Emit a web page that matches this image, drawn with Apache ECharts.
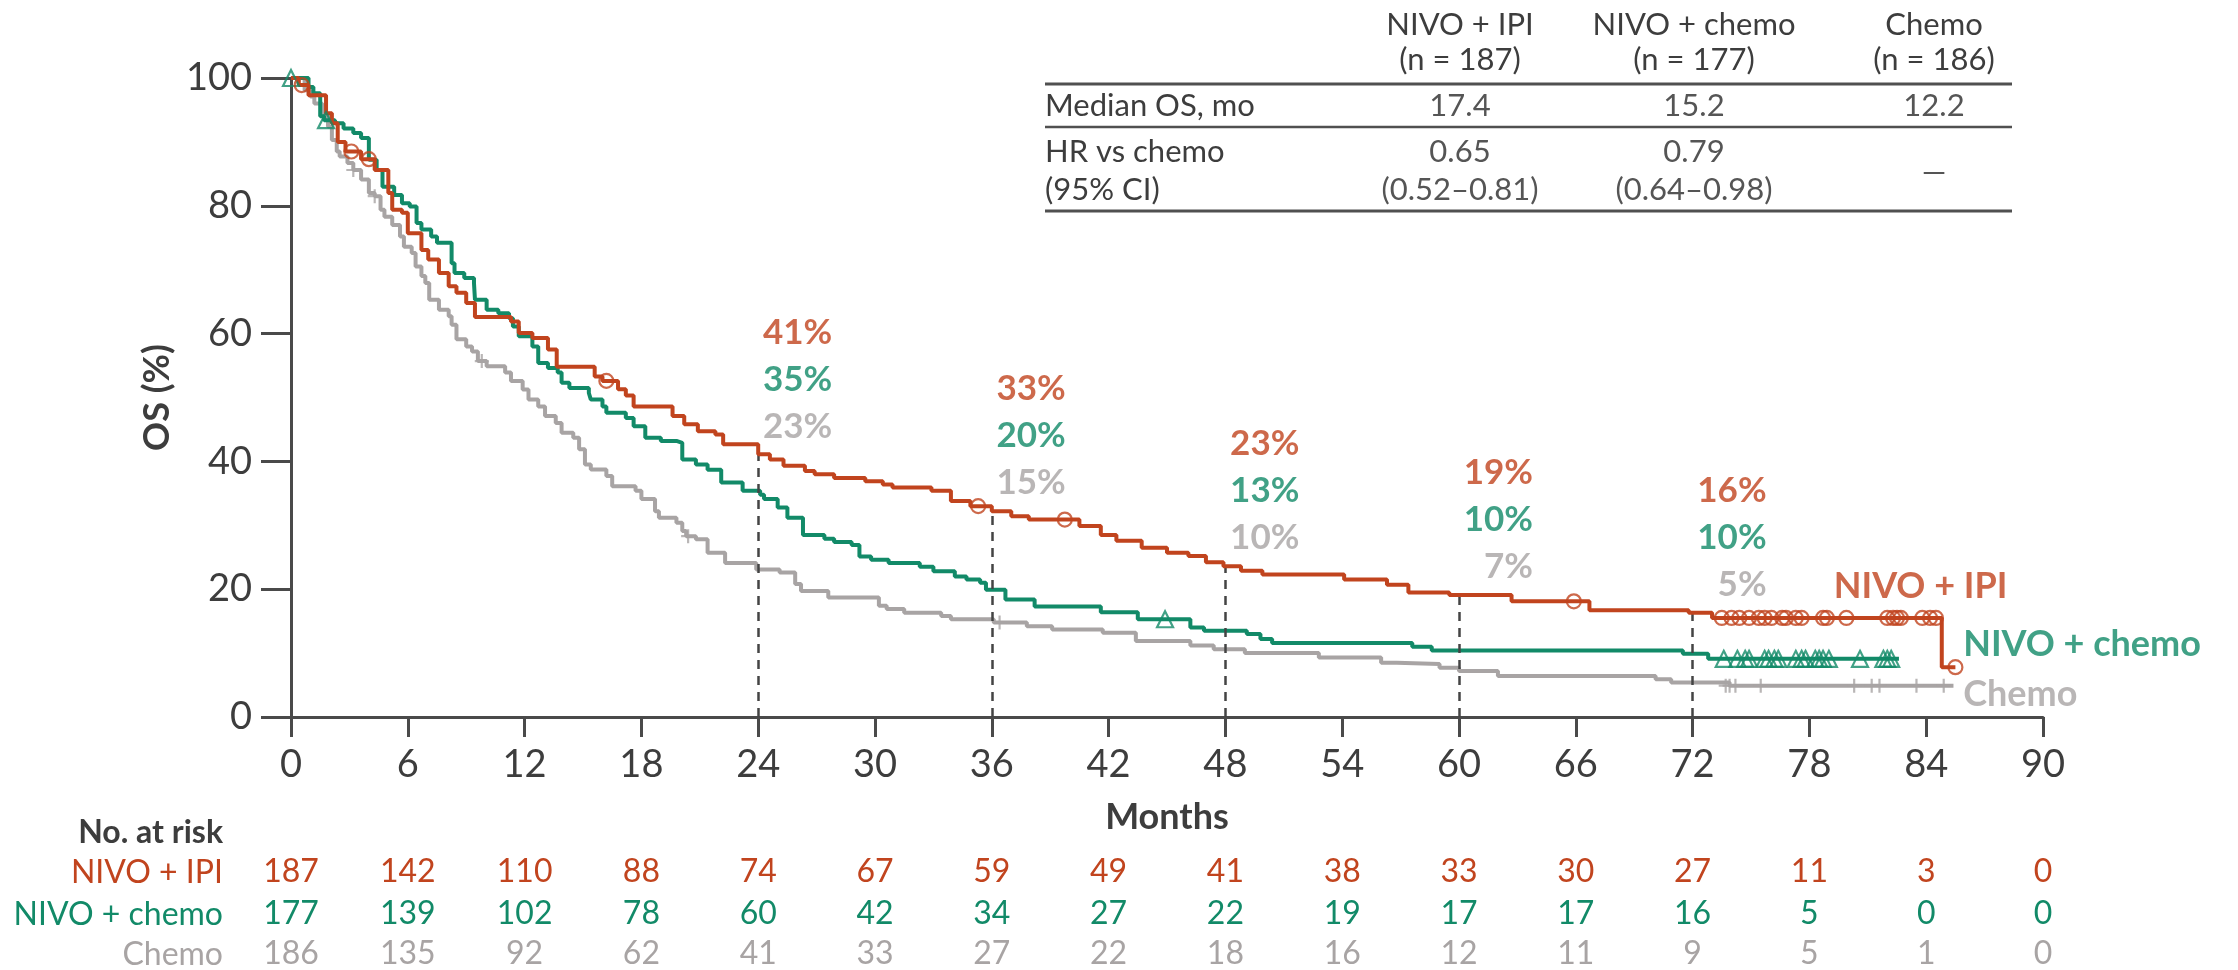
<!DOCTYPE html>
<html><head><meta charset="utf-8">
<script src="https://cdn.jsdelivr.net/npm/echarts@6/dist/echarts.min.js"></script>
<style>html,body{margin:0;padding:0;background:#fff}#c{width:2238px;height:970px}</style>
</head><body><div id="c"></div>
<script>
// ---------------- DATA ----------------
const monthTicks = [0,6,12,18,24,30,36,42,48,54,60,66,72,78,84,90];
const survivalTicks = [0,20,40,60,80,100];

// Kaplan-Meier steps [month, OS %]
const nivoIpi = [[0,100],[0.4,98.9],[0.9,97.3],[1.8,94.5],[2.1,92.9],[2.4,90.0],[2.8,88.5],[3.6,87.3],[4.3,85.6],[5.0,82.0],[5.2,79.4],[5.7,78.9],[6.0,75.7],[6.7,73.1],[7.05,71.6],[7.6,69.5],[8.1,67.4],[8.5,66.4],[9.0,64.8],[9.45,62.6],[11.3,61.9],[11.7,60.1],[12.4,59.3],[13.2,57.5],[13.65,54.8],[15.6,53.3],[16.0,52.6],[16.8,51.3],[17.2,50.3],[17.6,48.6],[19.6,47.1],[20.2,45.8],[20.9,44.7],[21.8,44.2],[22.2,42.7],[24.0,41.1],[24.6,40.3],[25.3,39.3],[26.4,38.5],[26.9,38.0],[27.9,37.4],[29.5,36.9],[30.4,36.4],[30.9,35.9],[32.9,35.4],[33.9,33.8],[34.9,33.0],[36.0,32.2],[37.0,31.4],[37.9,30.9],[40.5,29.9],[41.6,28.5],[42.4,27.6],[43.7,26.5],[45.0,25.7],[46.1,25.2],[47.0,24.2],[47.9,23.6],[48.8,22.9],[49.9,22.3],[54.1,21.5],[56.3,20.7],[57.4,19.5],[59.5,19.1],[62.7,18.1],[66.7,16.7],[71.8,16.3],[73.0,15.5],[84.8,7.8],[85.5,7.8]];
const nivoChemo = [[0,100],[0.9,98.6],[1.15,97.6],[1.5,94.0],[1.7,93.4],[2.26,92.9],[2.7,92.1],[3.2,91.4],[3.6,90.6],[4.0,87.2],[4.4,85.6],[4.7,83.0],[5.3,81.7],[5.7,80.4],[6.1,79.9],[6.45,77.3],[6.7,76.3],[7.2,75.2],[7.5,74.2],[8.25,71.0],[8.4,69.5],[8.9,68.7],[9.4,67.9],[9.45,65.3],[10.05,63.75],[10.65,63.2],[11.2,62.4],[11.4,61.1],[11.7,59.6],[12.4,58.0],[12.7,55.4],[13.2,54.6],[13.7,53.9],[13.9,52.3],[14.3,51.5],[15.3,50.7],[15.4,49.7],[16.0,48.6],[16.2,47.6],[17.2,46.8],[17.6,45.5],[18.2,43.7],[19.0,43.2],[19.8,42.9],[20.1,40.3],[20.8,39.5],[21.4,38.7],[22.1,36.7],[23.2,35.4],[24.1,34.8],[24.3,34.1],[25.0,32.8],[25.5,31.2],[26.3,28.5],[27.4,27.9],[27.9,27.4],[28.8,26.9],[29.2,25.1],[29.8,24.6],[30.7,24.1],[32.3,23.5],[33.0,22.8],[34.1,22.0],[34.7,21.5],[35.4,21.0],[35.7,19.9],[36.7,18.4],[38.2,17.3],[41.6,16.4],[43.5,15.3],[46.2,14.0],[46.9,13.5],[49.1,13.0],[49.8,12.2],[50.4,11.6],[57.6,11.0],[58.6,10.4],[71.5,9.9],[72.8,9.1],[82.6,9.1]];
const chemo = [[0,100],[0.7,98.1],[1.0,97.1],[1.2,96.0],[1.6,94.2],[1.9,92.4],[2.1,90.3],[2.35,88.5],[2.5,87.7],[2.9,86.7],[3.2,85.6],[3.6,84.1],[4.0,82.0],[4.3,81.5],[4.6,79.4],[4.8,78.3],[5.2,77.0],[5.6,75.2],[5.8,73.6],[6.2,72.6],[6.4,70.5],[6.7,69.0],[6.9,67.9],[7.1,65.3],[7.6,63.75],[8.1,62.7],[8.25,61.4],[8.5,59.1],[9.0,58.0],[9.3,57.2],[9.6,55.7],[10.05,54.9],[11.0,53.9],[11.3,52.6],[11.9,51.25],[12.2,49.7],[12.7,48.6],[13.05,47.1],[13.6,46.0],[13.9,44.5],[14.5,43.7],[14.8,41.9],[15.1,39.5],[15.4,38.75],[16.2,37.7],[16.5,36.1],[17.7,35.4],[18.0,34.1],[18.7,32.2],[18.9,31.2],[19.8,30.4],[20.1,29.1],[20.3,28.3],[20.8,27.8],[21.4,25.7],[22.3,24.1],[23.9,23.1],[25.1,22.6],[25.9,20.8],[26.2,19.7],[27.6,18.7],[30.2,17.4],[30.6,16.9],[31.5,16.3],[33.4,15.8],[33.9,15.3],[36.1,14.8],[37.8,14.2],[39.1,13.7],[41.7,13.2],[43.4,11.9],[46.2,11.2],[47.4,10.6],[49.0,10.0],[52.8,9.3],[56.0,8.5],[56.8,8.3],[59.0,7.7],[60.0,7.2],[62.0,6.4],[70.1,5.9],[70.9,5.4],[73.9,4.9],[85.4,4.9]];

// censored observations [month, OS %]
const nivoIpiCensor = [[0.55,98.9],[3.1,88.5],[4.0,87.3],[16.2,52.6],[35.3,33.0],[39.75,30.9],[65.9,18.1],[73.5,15.5],[74.0,15.5],[74.4,15.5],[74.9,15.5],[75.4,15.5],[75.7,15.5],[76.05,15.5],[76.6,15.5],[76.8,15.5],[77.3,15.5],[77.6,15.5],[78.7,15.5],[78.9,15.5],[79.9,15.5],[82.0,15.5],[82.3,15.5],[82.5,15.5],[82.7,15.5],[83.8,15.5],[84.2,15.5],[84.5,15.5],[85.5,7.8]];
const nivoChemoCensor = [[0,100],[1.8,93.4],[44.9,15.3],[73.6,9.1],[74.3,9.1],[74.7,9.1],[74.9,9.1],[75.7,9.1],[75.9,9.1],[76.2,9.1],[76.4,9.1],[77.3,9.1],[77.6,9.1],[77.8,9.1],[78.3,9.1],[78.5,9.1],[78.7,9.1],[79.0,9.1],[80.6,9.1],[81.8,9.1],[82.0,9.1],[82.2,9.1]];
const chemoCensor = [[3.2,85.6],[4.3,81.5],[9.8,55.7],[20.4,28.3],[36.4,14.8],[73.7,4.9],[73.9,4.9],[74.2,4.9],[75.5,4.9],[80.3,4.9],[81.2,4.9],[81.6,4.9],[83.5,4.9],[84.9,4.9]];

// landmark OS rates
const landmarkMonths = [24,36,48,60,72];
const landmarkIpi = [41,33,23,19,16];
const landmarkNivoChemo = [35,20,13,10,10];
const landmarkChemo = [23,15,10,7,5];

// numbers at risk
const riskIpi = [187,142,110,88,74,67,59,49,41,38,33,30,27,11,3,0];
const riskNivoChemo = [177,139,102,78,60,42,34,27,22,19,17,17,16,5,0,0];
const riskChemo = [186,135,92,62,41,33,27,22,18,16,12,11,9,5,1,0];

// summary table
const armNames = ['NIVO + IPI','NIVO + chemo','Chemo'];
const armN = ['(n = 187)','(n = 177)','(n = 186)'];
const medianOS = ['17.4','15.2','12.2'];
const hrVsChemo = ['0.65','0.79','—'];
const hrCI = ['(0.52–0.81)','(0.64–0.98)',''];

// ---------------- STYLE ----------------
const RED = '#C1441E', GREEN = '#128A68', GRAY = '#A8A4A4', DARK = '#3d3d3d', AXIS = '#4a4a4a';
const FONT = 'Lato, "Open Sans", sans-serif';

function stepValue(curve, m){ let v = curve[0][1]; for (const p of curve){ if (p[0] <= m) v = p[1]; else break; } return v; }

const chart = echarts.init(document.getElementById('c'), null, {renderer:'canvas'});

function riskAxis(arr, color, offset){
  return {type:'value', gridIndex:0, position:'bottom', offset:offset, min:0, max:90, interval:6,
    axisLine:{show:false}, axisTick:{show:false}, splitLine:{show:false},
    axisLabel:{show:true, margin:0, verticalAlign:'middle', color:color, fontSize:32, fontFamily:FONT,
      showMinLabel:true, showMaxLabel:true,
      formatter:(v)=>{ const i = monthTicks.indexOf(Math.round(v)); return i>=0 ? String(arr[i]) : ''; }}};
}

const lineSeries = (name, data, color, z) => ({name, type:'line', step:'end', data, showSymbol:false, symbol:'none',
  lineStyle:{color, width:4}, z, animation:false, silent:true});
const censorSeries = (data, symbol, size, color, z) => ({type:'scatter', data, symbol, symbolSize:size,
  itemStyle:{color:'rgba(0,0,0,0)', borderColor:color, borderWidth:2.2}, z, animation:false, silent:true});

const labelGroups = [[landmarkIpi, RED],[landmarkNivoChemo, GREEN],[landmarkChemo, GRAY]];
const annotationSeries = labelGroups.map(([vals, color], k) => ({
  type:'scatter', symbolSize:0, z:20, animation:false, silent:true,
  data: landmarkMonths.map((m,i)=>[m+3.8, stepValue(nivoIpi,m)+19.1-k*7.35, vals[i]]),
  label:{show:true, position:'left', distance:0, formatter:p=>p.data[2]+'%', color, fontSize:35, fontWeight:'bold', fontFamily:FONT}
}));

const endLabels = [[armNames[0], RED, 79.25, 20.5],[armNames[1], GREEN, 85.9, 11.4],[armNames[2], GRAY, 85.9, 3.6]];
const endLabelSeries = {type:'scatter', symbolSize:0, z:20, animation:false, silent:true,
  data:endLabels.map(e=>({value:[e[2],e[3]], name:e[0], label:{color:e[1]}})),
  label:{show:true, position:'right', distance:0, formatter:p=>p.name, fontSize:36, fontWeight:'bold', fontFamily:FONT}};

const landmarkSeries = {type:'line', data:[], animation:false, silent:true,
  markLine:{silent:true, symbol:['none','none'], label:{show:false}, animation:false,
    lineStyle:{color:'#444', width:2.5, type:[9,7]},
    data: landmarkMonths.map(m=>[{coord:[m,0]},{coord:[m, stepValue(nivoIpi,m)]}])}};

// table graphics
const colX = [1460,1694,1934];
const T = (text, x, y, align, extra) => ({type:'text', x, y, style:Object.assign({text, fill:DARK, font:'31px '+FONT, textAlign:align||'center', textVerticalAlign:'middle'}, extra||{})});
const L = (y, w) => ({type:'line', shape:{x1:1045, y1:y, x2:2012, y2:y}, style:{stroke:'#505050', lineWidth:w}});
const graphics = [];
armNames.forEach((n,i)=>{ graphics.push(T(n, colX[i], 25)); graphics.push(T(armN[i], colX[i], 60)); });
graphics.push(L(84,3));
graphics.push(T('Median OS, mo', 1045, 106, 'left'));
medianOS.forEach((v,i)=>graphics.push(T(v, colX[i], 106, 'center', {fill:'#555'})));
graphics.push(L(127,2.5));
graphics.push(T('HR vs chemo', 1045, 152, 'left'));
graphics.push(T('(95% CI)', 1045, 190, 'left'));
hrVsChemo.forEach((v,i)=>{ if(i<2) graphics.push(T(v, colX[i], 152, 'center', {fill:'#555'})); else graphics.push(T(v, colX[i], 172, 'center', {fill:'#555'})); });
hrCI.forEach((v,i)=>{ if(v) graphics.push(T(v, colX[i], 190, 'center', {fill:'#555'})); });
graphics.push(L(211,3));
// risk table row labels
graphics.push(T('No. at risk', 223, 833, 'right', {font:'bold 32px '+FONT}));
graphics.push(T(armNames[0], 223, 873, 'right', {font:'32px '+FONT, fill:RED}));
graphics.push(T(armNames[1], 223, 915, 'right', {font:'32px '+FONT, fill:GREEN}));
graphics.push(T(armNames[2], 223, 955, 'right', {font:'32px '+FONT, fill:GRAY}));

const plusPath = 'path://M5,0 L5,10 M0,5 L10,5';

chart.setOption({
  backgroundColor:'#fff',
  animation:false,
  grid:{left:291, right:195, top:78, bottom:252, containLabel:false},
  xAxis:[
    {type:'value', min:0, max:90, interval:6, position:'bottom',
     name:'Months', nameLocation:'middle', nameGap:100,
     nameTextStyle:{fontSize:36, fontWeight:'bold', color:DARK, fontFamily:FONT, verticalAlign:'middle'},
     axisLine:{show:true, lineStyle:{color:AXIS, width:3}},
     axisTick:{show:true, length:20, lineStyle:{color:AXIS, width:3}},
     splitLine:{show:false},
     axisLabel:{fontSize:38, color:DARK, margin:48, verticalAlign:'middle', fontFamily:FONT, showMinLabel:true, showMaxLabel:true}},
    riskAxis(riskIpi, RED, 155),
    riskAxis(riskNivoChemo, GREEN, 197),
    riskAxis(riskChemo, GRAY, 237)
  ],
  yAxis:{type:'value', min:0, max:100, interval:20,
     name:'OS (%)', nameLocation:'middle', nameGap:133, nameRotate:90,
     nameTextStyle:{fontSize:36, fontWeight:'bold', color:DARK, fontFamily:FONT, verticalAlign:'middle'},
     axisLine:{show:true, lineStyle:{color:AXIS, width:3}},
     axisTick:{show:true, length:30, lineStyle:{color:AXIS, width:3}},
     splitLine:{show:false},
     axisLabel:{fontSize:38, color:DARK, margin:39, fontFamily:FONT}},
  graphic:graphics,
  series:[
    landmarkSeries,
    lineSeries('Chemo', chemo, GRAY, 3),
    lineSeries('NIVO + chemo', nivoChemo, GREEN, 4),
    lineSeries('NIVO + IPI', nivoIpi, RED, 5),
    censorSeries(chemoCensor, plusPath, 14, GRAY, 6),
    censorSeries(nivoChemoCensor, 'triangle', 16, GREEN, 7),
    censorSeries(nivoIpiCensor, 'circle', 14, RED, 8),
    ...annotationSeries,
    endLabelSeries
  ]
});
</script></body></html>
